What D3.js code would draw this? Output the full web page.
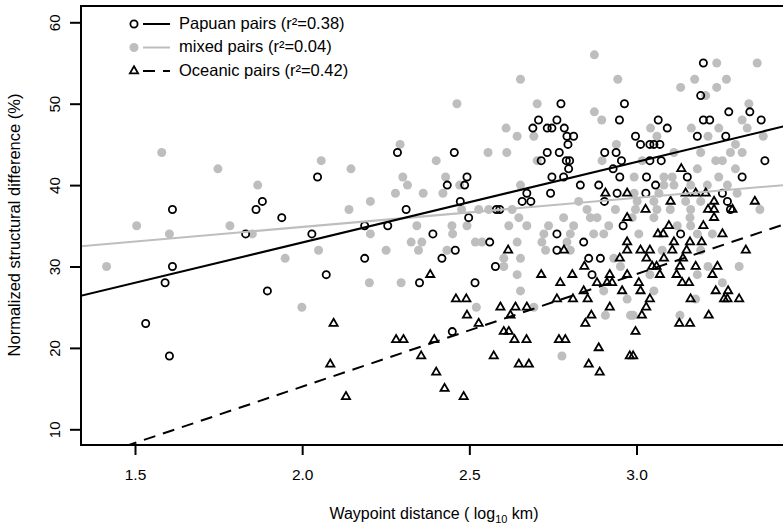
<!DOCTYPE html>
<html>
<head>
<meta charset="utf-8">
<script src="https://cdn.jsdelivr.net/npm/d3@7"></script>
<style>
  body { margin: 0; background: #fff; }
  svg text { font-family: "Liberation Sans", Arial, Helvetica, sans-serif; fill: #000; }
</style>
</head>
<body>
<svg id="chart" width="783" height="526"></svg>
<script>
// tick labels
var xTicks = [1.5, 2.0, 2.5, 3.0];
var yTicks = [10, 20, 30, 40, 50, 60];

// [log10 km, % difference]
var papuan = [
  [1.532,23],[1.603,19],[1.590,28],[1.612,30],[1.612,37],[1.831,34],[1.862,37],[1.881,38],
  [1.939,36],[1.896,27],[2.029,34],[2.046,41],[2.072,29],[2.187,35],[2.187,31],[2.256,35],
  [2.285,44],[2.311,37],[2.351,28],[2.391,34],[2.418,31],[2.434,40],[2.449,22],[2.455,44],
  [2.458,32],[2.473,38],[2.486,40],[2.493,41],[2.498,36],[2.517,28],[2.561,33],[2.578,30],
  [2.581,37],[2.591,37],[2.658,38],[2.672,39],[2.684,38],[2.690,47],[2.707,48],[2.715,43],
  [2.733,47],[2.733,44],[2.743,39],[2.747,47],[2.747,41],[2.762,48],[2.762,34],[2.762,32],
  [2.769,44],[2.774,50],[2.782,41],[2.784,47],[2.790,43],[2.792,46],[2.795,45],[2.797,42],
  [2.800,43],[2.812,46],[2.832,40],[2.842,33],[2.857,31],[2.867,29],[2.887,40],[2.892,31],
  [2.904,38],[2.905,44],[2.930,42],[2.939,44],[2.942,39],[2.949,48],[2.950,41],[2.955,43],
  [2.960,35],[2.964,50],[2.997,46],[3.012,45],[3.028,39],[3.030,41],[3.040,45],[3.040,43],
  [3.052,45],[3.057,40],[3.065,48],[3.070,45],[3.074,43],[3.092,47],[3.132,34],[3.152,41],
  [3.182,46],[3.192,51],[3.200,55],[3.200,48],[3.219,48],[3.257,39],[3.267,46],[3.272,38],
  [3.276,49],[3.281,37],[3.316,41],[3.339,49],[3.373,48],[3.384,43]
];

var mixed = [
  [1.415,30],[1.505,35],[1.580,44],[1.603,34],[1.748,42],[1.784,35],[1.851,34],[1.867,40],
  [1.949,31],[1.999,25],[2.049,32],[2.057,43],[2.140,37],[2.146,42],[2.201,28],[2.204,38],
  [2.204,34],[2.251,32],[2.279,39],[2.293,45],[2.296,28],[2.301,41],[2.315,40],[2.326,33],
  [2.343,35],[2.348,32],[2.358,33],[2.362,39],[2.401,43],[2.421,39],[2.429,41],[2.433,32],
  [2.448,35],[2.450,34],[2.463,50],[2.471,40],[2.477,37],[2.493,35],[2.518,33],[2.521,25],
  [2.528,37],[2.538,33],[2.556,44],[2.558,37],[2.603,31],[2.603,30],[2.610,47],[2.612,44],
  [2.618,35],[2.628,37],[2.643,46],[2.643,33],[2.643,29],[2.648,36],[2.653,53],[2.653,40],
  [2.653,31],[2.653,27],[2.672,35],[2.693,46],[2.693,25],[2.703,50],[2.703,43],[2.717,33],
  [2.723,34],[2.728,32],[2.737,35],[2.777,19],[2.782,36],[2.792,33],[2.802,34],[2.802,32],
  [2.812,35],[2.827,38],[2.852,37],[2.862,36],[2.872,34],[2.874,56],[2.874,49],[2.882,36],
  [2.896,48],[2.897,43],[2.902,34],[2.902,27],[2.907,24],[2.917,35],[2.932,31],[2.937,37],
  [2.940,45],[2.944,53],[2.952,30],[2.972,26],[2.982,24],[2.987,36],[2.990,24],[2.993,41],
  [2.993,39],[2.997,37],[3.002,38],[3.007,34],[3.017,43],[3.040,29],[3.042,47],[3.052,38],
  [3.052,36],[3.052,27],[3.061,46],[3.061,37],[3.067,39],[3.077,32],[3.082,41],[3.082,40],
  [3.101,37],[3.107,41],[3.112,44],[3.112,40],[3.122,35],[3.130,24],[3.132,52],[3.147,38],
  [3.160,36],[3.162,40],[3.162,37],[3.162,35],[3.164,47],[3.174,53],[3.177,26],[3.182,42],
  [3.182,34],[3.182,29],[3.192,44],[3.192,38],[3.192,32],[3.207,51],[3.212,40],[3.214,46],
  [3.214,30],[3.227,34],[3.237,43],[3.240,55],[3.240,52],[3.246,47],[3.246,41],[3.257,43],
  [3.257,28],[3.269,53],[3.272,40],[3.281,44],[3.296,45],[3.296,42],[3.301,39],[3.307,30],
  [3.316,48],[3.316,44],[3.331,47],[3.336,50],[3.361,55],[3.369,37],[3.379,46]
];

var oceanic = [
  [2.084,18],[2.094,23],[2.131,14],[2.281,21],[2.303,21],[2.356,19],[2.383,29],[2.395,21],
  [2.401,17],[2.426,15],[2.460,26],[2.483,14],[2.491,26],[2.493,24],[2.528,23],[2.573,19],
  [2.593,25],[2.603,22],[2.616,32],[2.618,22],[2.623,24],[2.635,21],[2.638,25],[2.648,18],
  [2.671,21],[2.672,25],[2.678,18],[2.715,29],[2.762,26],[2.768,21],[2.772,28],[2.783,32],
  [2.787,21],[2.808,29],[2.810,26],[2.842,27],[2.844,30],[2.847,23],[2.854,26],[2.857,18],
  [2.865,24],[2.882,28],[2.887,20],[2.890,17],[2.907,39],[2.912,28],[2.920,29],[2.920,25],
  [2.927,28],[2.950,31],[2.957,27],[2.972,39],[2.972,36],[2.972,33],[2.972,32],[2.972,29],
  [2.980,19],[2.990,19],[2.997,22],[3.007,28],[3.012,32],[3.012,27],[3.016,24],[3.027,37],
  [3.029,25],[3.030,31],[3.040,32],[3.040,26],[3.047,30],[3.060,30],[3.064,34],[3.070,29],
  [3.080,34],[3.082,31],[3.097,35],[3.102,38],[3.107,32],[3.112,33],[3.120,29],[3.128,23],
  [3.130,30],[3.134,42],[3.137,28],[3.139,31],[3.147,39],[3.150,32],[3.157,28],[3.160,33],
  [3.160,23],[3.162,26],[3.177,39],[3.177,30],[3.195,33],[3.200,35],[3.207,39],[3.214,37],
  [3.216,24],[3.227,29],[3.232,38],[3.232,37],[3.232,36],[3.237,27],[3.242,30],[3.257,34],
  [3.262,26],[3.272,26],[3.274,27],[3.287,37],[3.307,26],[3.327,32],[3.354,38]
];

// fitted lines: [intercept, slope]
var fitPapuan = [13.15, 9.9];
var fitMixed = [27.72, 3.57];
var fitOceanic = [-12.42, 13.83];

var legendLabels = ["Papuan pairs (r²=0.38)", "mixed pairs (r²=0.04)", "Oceanic pairs (r²=0.42)"];

var grey = "#bebebe";
var box = {left: 81, top: 6, right: 840, bottom: 445};

var svg = d3.select("#chart");

var x = d3.scaleLinear().domain([1.5, 3.0]).range([135, 636.5]);
var y = d3.scaleLinear().domain([10, 60]).range([429.3, 22.3]);

svg.append("clipPath").attr("id", "plotclip")
  .append("rect")
  .attr("x", box.left).attr("y", box.top)
  .attr("width", box.right - box.left).attr("height", box.bottom - box.top);

var plot = svg.append("g").attr("clip-path", "url(#plotclip)");

// mixed pairs (filled grey dots)
plot.selectAll(".mixed").data(mixed).enter().append("circle")
  .attr("cx", d => x(d[0]))
  .attr("cy", d => y(d[1]))
  .attr("r", 4.5)
  .style("fill", grey);

// papuan pairs (open circles)
plot.selectAll(".papuan").data(papuan).enter().append("circle")
  .attr("cx", d => x(d[0]))
  .attr("cy", d => y(d[1]))
  .attr("r", 3.6)
  .style("fill", "none")
  .style("stroke", "black")
  .style("stroke-width", 1.8);

// oceanic pairs (open triangles)
var tri = "M0,-4.7L4.1,2.35L-4.1,2.35Z";
plot.selectAll(".oceanic").data(oceanic).enter().append("path")
  .attr("d", tri)
  .attr("transform", d => "translate(" + x(d[0]) + "," + y(d[1]) + ")")
  .style("fill", "none")
  .style("stroke", "black")
  .style("stroke-width", 1.8)
  .style("stroke-linejoin", "miter");

// regression lines
function fitLine(fit, colour, dash) {
  var xs = [1.3, 3.7];
  plot.append("line")
    .attr("x1", x(xs[0])).attr("y1", y(fit[0] + fit[1] * xs[0]))
    .attr("x2", x(xs[1])).attr("y2", y(fit[0] + fit[1] * xs[1]))
    .style("stroke", colour)
    .style("stroke-width", 2)
    .style("stroke-dasharray", dash);
}
fitLine(fitMixed, grey, null);
fitLine(fitPapuan, "black", null);
fitLine(fitOceanic, "black", "12,8");

// frame
svg.append("rect")
  .attr("x", box.left).attr("y", box.top)
  .attr("width", box.right - box.left).attr("height", box.bottom - box.top)
  .style("fill", "none").style("stroke", "black").style("stroke-width", 2);

// x axis
var xAxis = svg.append("g")
  .attr("transform", "translate(0," + box.bottom + ")")
  .call(d3.axisBottom(x).tickValues(xTicks).tickSize(10).tickPadding(14).tickFormat(d3.format(".1f")));
xAxis.select(".domain").remove();
xAxis.selectAll("line").style("stroke-width", 2);
xAxis.selectAll("text").style("font-size", "15.5px");

// y axis
var yAxis = svg.append("g")
  .attr("transform", "translate(" + box.left + ",0)")
  .call(d3.axisLeft(y).tickValues(yTicks).tickSize(11));
yAxis.select(".domain").remove();
yAxis.selectAll("line").style("stroke-width", 2);
yAxis.selectAll("text")
  .style("font-size", "15px")
  .attr("transform", "rotate(-90)")
  .attr("text-anchor", "middle")
  .attr("x", 0).attr("y", -21).attr("dy", null);

// axis titles
var xt = svg.append("text")
  .attr("x", 434).attr("y", 519)
  .attr("text-anchor", "middle")
  .style("font-size", "16px");
xt.append("tspan").text("Waypoint distance ( log");
xt.append("tspan").attr("dy", 4).style("font-size", "11px").text("10");
xt.append("tspan").attr("dy", -4).text(" km)");

svg.append("text")
  .attr("transform", "translate(20,225) rotate(-90)")
  .attr("text-anchor", "middle")
  .style("font-size", "16.5px")
  .text("Normalized structural difference (%)");

// legend
var legend = svg.append("g");
var rows = [24, 47.5, 71];
legend.append("circle").attr("cx", 134).attr("cy", rows[0]).attr("r", 3.6)
  .style("fill", "none").style("stroke", "black").style("stroke-width", 1.8);
legend.append("circle").attr("cx", 134).attr("cy", rows[1]).attr("r", 4.5).style("fill", grey);
legend.append("path").attr("d", tri).attr("transform", "translate(134," + rows[2] + ")")
  .style("fill", "none").style("stroke", "black").style("stroke-width", 1.8);
var legendStyle = [["black", null], [grey, null], ["black", "12,8"]];
rows.forEach(function (ry, i) {
  legend.append("line")
    .attr("x1", 143).attr("x2", 170).attr("y1", ry).attr("y2", ry)
    .style("stroke", legendStyle[i][0]).style("stroke-width", 2)
    .style("stroke-dasharray", legendStyle[i][1]);
  legend.append("text")
    .attr("x", 179).attr("y", ry + 4.5)
    .style("font-size", "16.5px")
    .text(legendLabels[i]);
});
</script>
</body>
</html>
